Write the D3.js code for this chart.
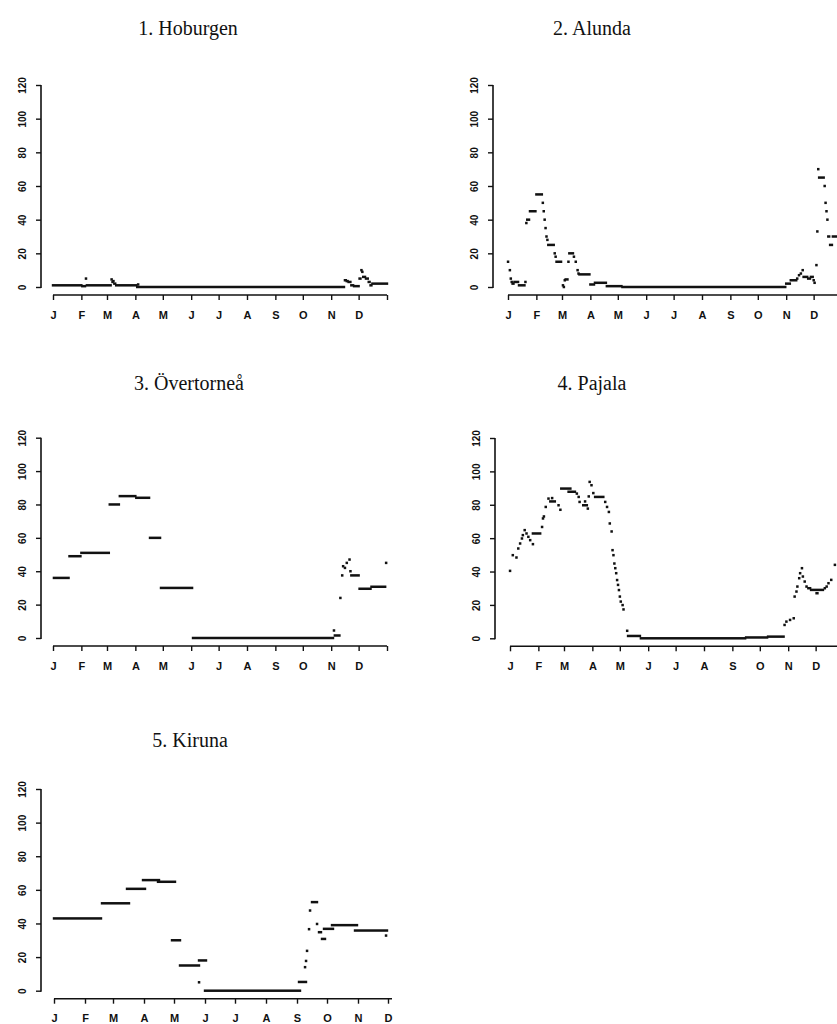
<!DOCTYPE html>
<html>
<head>
<meta charset="utf-8">
<script src="https://cdn.jsdelivr.net/npm/d3@7"></script>
<style>
  html, body { margin: 0; padding: 0; background: #fff; }
  svg { display: block; }
  .title { font-family: "Liberation Serif", "DejaVu Serif", serif; font-size: 20px; fill: #111; }
  .tick-label { font-family: "Liberation Sans", Arial, sans-serif; font-weight: bold; fill: #111; }
</style>
</head>
<body>
<script>
// Daily snow depth (cm) at five Swedish stations.
// Each row: [first day of year, last day of year, value]; single days have first == last.

const titles = ["1. Hoburgen", "2. Alunda", "3. Övertorneå", "4. Pajala", "5. Kiruna"];

const monthLabels = ["J", "F", "M", "A", "M", "J", "J", "A", "S", "O", "N", "D"];
const monthStarts = [0, 31, 59, 90, 120, 151, 181, 212, 243, 273, 304, 334];
const yTicks = [0, 20, 40, 60, 80, 100, 120];

const hoburgen = [
  [0, 31, 1], [32, 35, 0.5], [36, 36, 5], [37, 63, 1], [64, 64, 4.5], [65, 65, 3],
  [66, 66, 3.5], [67, 68, 2], [69, 91, 1], [93, 93, 1.5], [92, 318, 0],
  [319, 320, 4], [321, 322, 3.5], [323, 325, 3], [326, 328, 1], [329, 334, 0.5],
  [335, 336, 5], [337, 337, 10], [338, 338, 9], [339, 341, 6], [342, 344, 5],
  [345, 346, 3], [347, 348, 1], [349, 365, 2]
];

const alunda = [
  [0, 0, 15], [2, 2, 10], [3, 3, 5], [4, 4, 3], [5, 6, 2], [7, 11, 3], [12, 18, 1],
  [19, 19, 3], [20, 20, 38], [21, 23, 40], [24, 30, 45], [31, 37, 55], [38, 38, 50],
  [39, 39, 45], [40, 40, 40], [41, 41, 35], [42, 42, 30], [43, 43, 28], [44, 50, 25],
  [51, 51, 20], [52, 52, 18], [53, 58, 15], [60, 60, 1], [61, 61, 0], [62, 62, 4],
  [63, 65, 4.5], [66, 66, 15], [67, 71, 20], [72, 72, 18], [74, 74, 15], [76, 76, 10],
  [77, 77, 8], [78, 89, 7.5], [90, 94, 1.5], [95, 107, 2.5], [108, 124, 0.5],
  [125, 303, 0], [304, 308, 2], [309, 315, 4], [316, 316, 5], [318, 318, 7],
  [320, 320, 8], [322, 322, 10], [323, 327, 6], [328, 330, 5], [331, 333, 6],
  [334, 334, 4], [335, 335, 2.5], [337, 337, 13], [338, 338, 33], [339, 339, 70],
  [340, 345, 65], [346, 346, 60], [347, 347, 50], [348, 348, 45], [349, 349, 40],
  [350, 351, 30], [352, 354, 25], [355, 365, 30]
];

const overtornea = [
  [1, 17, 36], [18, 30, 49], [31, 61, 51], [62, 72, 80], [73, 90, 85], [91, 105, 84],
  [106, 117, 60], [118, 152, 30], [153, 306, 0], [307, 307, 4.5], [308, 313, 1.5],
  [314, 314, 24], [316, 316, 37.5], [317, 317, 43], [319, 319, 42], [321, 321, 45],
  [324, 324, 47], [325, 325, 40], [326, 334, 37.5], [335, 347, 29.5], [348, 363, 30.7],
  [364, 364, 45]
];

const pajala = [
  [0, 0, 40.4], [3, 3, 49.8], [7, 7, 48.4], [9, 9, 53.8], [11, 11, 56.8], [13, 13, 59.8],
  [14, 14, 61.8], [16, 16, 64.8], [18, 18, 62.8], [20, 20, 60.8], [22, 22, 58.8],
  [25, 25, 56.4], [25, 33, 62.8], [35, 35, 66.7], [36, 36, 71.8], [37, 37, 73],
  [39, 39, 78.7], [42, 42, 83.7], [44, 49, 82], [46, 46, 84], [53, 53, 79.7],
  [55, 55, 77], [56, 66, 89.7], [64, 71, 87.8], [73, 73, 86.7], [75, 75, 84.7],
  [76, 76, 81.7], [80, 84, 79.7], [82, 82, 82], [85, 85, 77.7], [86, 86, 85],
  [87, 87, 93.7], [89, 89, 91.7], [91, 91, 87], [93, 102, 84.7], [104, 104, 81.7],
  [106, 106, 78.7], [108, 108, 75.7], [109, 109, 68.8], [111, 111, 64], [112, 112, 52.8],
  [113, 113, 49.8], [114, 114, 44.8], [115, 115, 42], [116, 116, 39], [117, 117, 34.9],
  [118, 118, 32], [119, 119, 28.9], [120, 120, 25], [121, 121, 22], [123, 123, 19.9],
  [124, 124, 17.3], [128, 128, 4.5], [129, 142, 1.4], [143, 257, 0], [258, 281, 0.5],
  [282, 299, 1], [300, 300, 8], [302, 302, 10], [306, 306, 11], [310, 310, 12],
  [311, 311, 25], [313, 313, 28], [314, 314, 31], [316, 316, 36], [317, 317, 39],
  [319, 319, 42], [320, 320, 37], [322, 322, 34], [324, 324, 31], [326, 328, 30],
  [329, 342, 29], [335, 336, 27], [344, 344, 30], [346, 346, 31], [348, 348, 33],
  [351, 351, 35], [355, 355, 44]
];

const kiruna = [
  [0, 47, 43], [48, 75, 52], [73, 91, 60.6], [89, 105, 65.8], [104, 121, 64.8],
  [118, 126, 30], [126, 145, 15], [145, 145, 5], [145, 152, 18], [151, 246, 0],
  [245, 252, 5.2], [251, 251, 14], [252, 252, 17.7], [253, 253, 23.7], [255, 255, 36.6],
  [256, 256, 47.7], [258, 263, 52.7], [263, 263, 39.7], [265, 267, 34.8],
  [268, 271, 30.8], [270, 279, 36.8], [278, 303, 39], [301, 333, 35.8], [332, 332, 32.8]
];

// Panel layout (pixels)
const panels = [
  { title: titles[0], data: hoburgen,   axisX: 41,  xr: [53, 387],  dayMax: 365, yr: [287, 85],    titleX: 188, titleY: 35 },
  { title: titles[1], data: alunda,     axisX: 493, xr: [508, 842], dayMax: 365, yr: [287, 85],    titleX: 592, titleY: 35 },
  { title: titles[2], data: overtornea, axisX: 41,  xr: [53, 387],  dayMax: 365, yr: [638, 437.7], titleX: 189, titleY: 390 },
  { title: titles[3], data: pajala,     axisX: 495, xr: [510, 844], dayMax: 365, yr: [638.3, 438], titleX: 592, titleY: 390 },
  { title: titles[4], data: kiruna,     axisX: 41,  xr: [54, 388],  dayMax: 334, yr: [990.7, 789], titleX: 190, titleY: 747 }
];

const svg = d3.select("body").append("svg")
  .attr("width", 837).attr("height", 1024)
  .style("background", "#fff");

panels.forEach(p => {
  const x = d3.scaleLinear().domain([0, p.dayMax]).range(p.xr);
  const y = d3.scaleLinear().domain([0, 120]).range(p.yr);
  const g = svg.append("g");

  // Title
  g.append("text").attr("class", "title")
    .attr("x", p.titleX).attr("y", p.titleY)
    .attr("text-anchor", "middle")
    .text(p.title);

  // Y axis
  const yAxis = d3.axisLeft(y).tickValues(yTicks).tickSize(5).tickFormat(d3.format("d"));
  const ya = g.append("g").attr("transform", `translate(${p.axisX},0)`).call(yAxis);
  ya.select(".domain").attr("stroke", "#111").attr("stroke-width", 1.6)
    .attr("d", `M0,${y(120)}V${y(0) + 1}`);
  ya.selectAll(".tick line").attr("stroke", "#111").attr("stroke-width", 1.4);
  ya.selectAll(".tick text")
    .attr("class", "tick-label")
    .attr("font-size", 10)
    .attr("x", null).attr("dy", null)
    .attr("text-anchor", "middle")
    .attr("transform", "translate(-15,0) rotate(-90)")
    .attr("y", 0);

  // X axis (month starts, plus the year-end tick where the year is complete)
  const xTicks = p.dayMax === 365 ? monthStarts.concat([365]) : monthStarts;
  const xAxis = d3.axisBottom(x).tickValues(xTicks).tickSize(5)
    .tickFormat(d => { const i = monthStarts.indexOf(d); return i >= 0 ? monthLabels[i] : ""; });
  const xa = g.append("g").attr("transform", `translate(0,${y(0) + 8})`).call(xAxis);
  xa.select(".domain").attr("stroke", "#111").attr("stroke-width", 1.6)
    .attr("d", `M${x(0)},0H${x(p.dayMax) + (p.dayMax === 365 ? 0 : 4)}`);
  xa.selectAll(".tick line").attr("stroke", "#111").attr("stroke-width", 1.4);
  xa.selectAll(".tick text")
    .attr("class", "tick-label")
    .attr("font-size", 11)
    .attr("y", 16).attr("dy", "0.71em");

  // Daily observations: constant runs drawn as short bars, single days as dots
  g.append("g").selectAll("rect")
    .data(p.data)
    .join("rect")
    .attr("x", d => x(d[0]) - 1.2)
    .attr("width", d => Math.max(2.5, x(d[1]) - x(d[0]) + 2.4))
    .attr("y", d => y(d[2]) - 1.25)
    .attr("height", 2.5)
    .attr("fill", "#111");
});
</script>
</body>
</html>
